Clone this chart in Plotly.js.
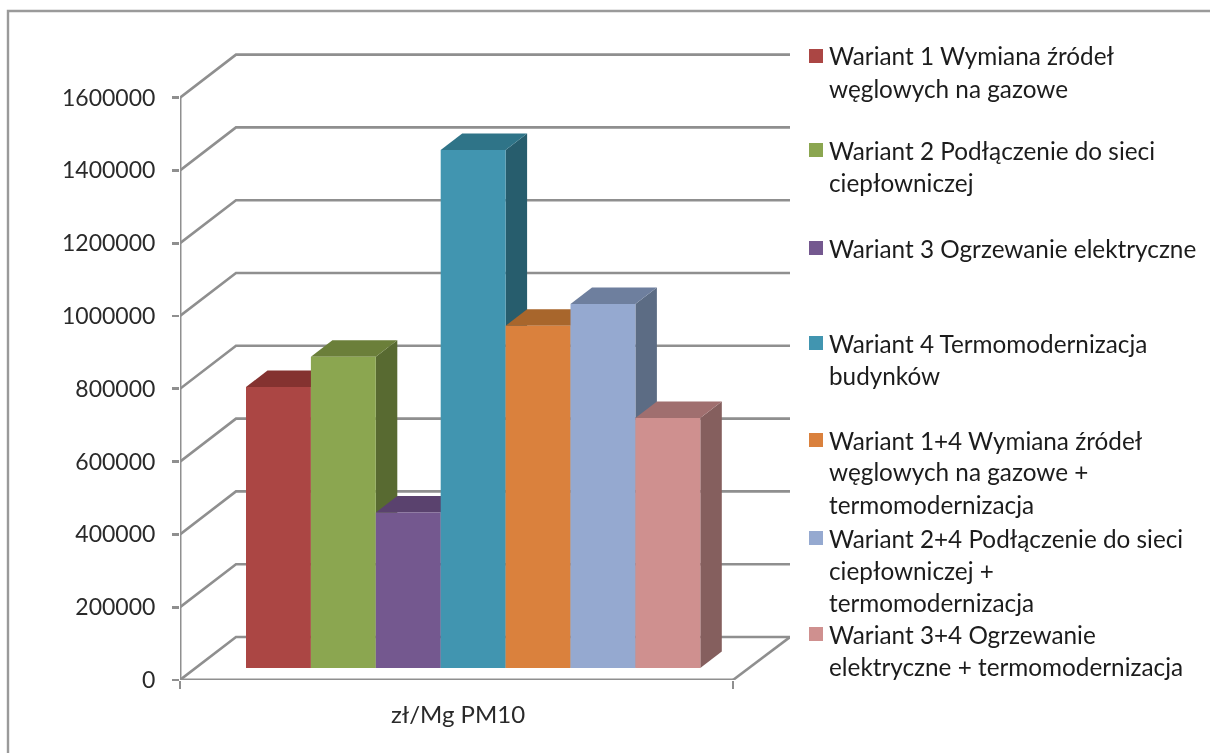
<!DOCTYPE html>
<html><head><meta charset="utf-8">
<script src="https://cdn.plot.ly/plotly-3.0.1.min.js"></script>
<style>html,body{margin:0;padding:0;background:#fff;overflow:hidden}#c{width:1210px;height:753px;filter:blur(0.5px)}</style>
</head><body><div id="c"></div>
<script>
const categories = ["Wariant 1 Wymiana źródeł węglowych na gazowe","Wariant 2 Podłączenie do sieci ciepłowniczej","Wariant 3 Ogrzewanie elektryczne","Wariant 4 Termomodernizacja budynków","Wariant 1+4 Wymiana źródeł węglowych na gazowe + termomodernizacja","Wariant 2+4 Podłączenie do sieci ciepłowniczej + termomodernizacja","Wariant 3+4 Ogrzewanie elektryczne + termomodernizacja"];
const values = [772000, 855000, 427000, 1423000, 940000, 1000000, 687000];
const frontColors = ["#AB4644","#8BA650","#74588F","#4195B0","#DA813D","#95A9D0","#CF908F"];
const topColors = ["#843230","#6B7F3A","#5A426E","#2F7488","#A8662C","#6E7F9E","#A06F6F"];
const sideColors = ["#6F2C2A","#586A31","#4A365C","#275D6D","#8C5524","#5C6C84","#855F5E"];
const legendLines = [
 ["Wariant 1 Wymiana źródeł","węglowych na gazowe"],
 ["Wariant 2 Podłączenie do sieci","ciepłowniczej"],
 ["Wariant 3 Ogrzewanie elektryczne"],
 ["Wariant 4 Termomodernizacja","budynków"],
 ["Wariant 1+4 Wymiana źródeł","węglowych na gazowe +","termomodernizacja"],
 ["Wariant 2+4 Podłączenie do sieci","ciepłowniczej +","termomodernizacja"],
 ["Wariant 3+4 Ogrzewanie","elektryczne + termomodernizacja"]
];
const legendTops = [56,150,248,343,440,538,634];
const axisLabel = "zł/Mg PM10";
const yTicks = [0,200000,400000,600000,800000,1000000,1200000,1400000,1600000];

const W=1210,H=753,L=180,T=50,PW=610,PH=630;
const pxPerUnit = 72.8/200000;
const FONT = "Lato, Carlito, 'Open Sans', sans-serif";
const GRID = "#8f8f8f";
const frontW = 553, wallDx = 56, wallDy = 43/pxPerUnit;
const barStart = 66, barW = 64.9, barLift = 12/pxPerUnit, barDx = 21.5, barDy = 16.5/pxPerUnit;

const traces = [];
function poly(xs,ys,color,name){traces.push({type:"scatter",mode:"lines",x:xs,y:ys,fill:"toself",fillcolor:color,line:{width:0,color:color},hoverinfo:"skip",name:name,showlegend:false});}
function line(xs,ys,w,name){traces.push({type:"scatter",mode:"lines",x:xs,y:ys,line:{color:GRID,width:w},hoverinfo:"skip",name:name,showlegend:false,cliponaxis:false});}

yTicks.forEach(v=>line([0,wallDx,PW],[v,v+wallDy,v+wallDy],2.6,"grid"));
line([PW,frontW],[wallDy,0],2.6,"floor");
values.forEach((v,i)=>{
  const x0=barStart+i*barW,x1=x0+barW,y0=barLift,y1=barLift+v;
  poly([x1,x1+barDx,x1+barDx,x1,x1],[y0,y0+barDy,y1+barDy,y1,y0],sideColors[i],categories[i]+" side");
  poly([x0,x1,x1+barDx,x0+barDx,x0],[y1,y1,y1+barDy,y1+barDy,y1],topColors[i],categories[i]+" top");
  poly([x0,x1,x1,x0,x0],[y0,y0,y1,y1,y0],frontColors[i],categories[i]);
});
line([0,0],[0,yTicks[yTicks.length-1]],3,"y axis");
line([0,frontW],[0,0],3,"x axis");

const paperX=x=>(x-L)/PW, paperY=y=>1-(y-T)/PH;
const annotations=[{xref:"x",yref:"paper",x:278,y:paperY(713),text:axisLabel,showarrow:false,xanchor:"center",yanchor:"middle",font:{family:FONT,size:24,color:"#2a2a2a"}}];
const shapes=[{type:"path",xref:"paper",yref:"paper",path:`M ${paperX(8)} ${paperY(760)} L ${paperX(8)} ${paperY(11)} L ${paperX(1220)} ${paperY(11)}`,line:{color:"#9a9a9a",width:2.4}}];
legendLines.forEach((ls,i)=>{
  shapes.push({type:"rect",xref:"paper",yref:"paper",x0:paperX(809),x1:paperX(823),y0:paperY(legendTops[i]+7),y1:paperY(legendTops[i]-7),fillcolor:frontColors[i],line:{width:0}});
  ls.forEach((t,k)=>annotations.push({xref:"paper",yref:"paper",x:paperX(827.5),y:paperY(legendTops[i]+k*32),text:t,showarrow:false,xanchor:"left",yanchor:"middle",font:{family:FONT,size:24.3,color:"#1c1c1c"}}));
});

Plotly.newPlot("c",traces,{
  width:W,height:H,margin:{l:L,r:W-L-PW,t:T,b:H-T-PH},paper_bgcolor:"#fff",plot_bgcolor:"#fff",showlegend:false,
  xaxis:{range:[0,PW],tickvals:[0,frontW],ticktext:["",""],ticks:"outside",ticklen:8,tickwidth:2.6,tickcolor:GRID,showgrid:false,zeroline:false,showline:false,fixedrange:true},
  yaxis:{range:[0,PH/pxPerUnit],tickvals:yTicks,ticks:"outside",ticklen:7,tickwidth:2.6,tickcolor:GRID,showgrid:false,zeroline:false,showline:false,tickformat:"d",ticklabelstandoff:12,tickfont:{family:FONT,size:23,color:"#2a2a2a"},fixedrange:true},
  annotations,shapes
},{displayModeBar:false,staticPlot:true});
</script></body></html>
